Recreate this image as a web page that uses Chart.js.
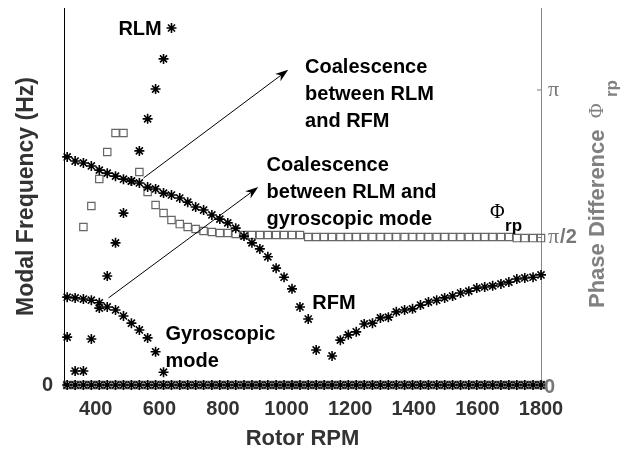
<!DOCTYPE html>
<html>
<head>
<meta charset="utf-8">
<script src="https://cdn.jsdelivr.net/npm/chart.js@4.4.1/dist/chart.umd.min.js"></script>
<style>
  html, body { margin: 0; padding: 0; background: #fff; }
</style>
</head>
<body>
<canvas id="modalChart" width="633" height="450"></canvas>
<script>
// rotor speed of every sample (rpm)
const rpm = [
    310, 335, 361, 386, 411, 436, 462, 487, 512, 537,
    563, 588, 613, 638, 664, 689, 714, 739, 765, 790,
    815, 840, 866, 891, 916, 941, 967, 992, 1017, 1042,
    1068, 1093, 1118, 1143, 1169, 1194, 1219, 1244, 1270, 1295,
    1320, 1345, 1371, 1396, 1421, 1446, 1472, 1497, 1522, 1547,
    1573, 1598, 1623, 1648, 1674, 1699, 1724, 1749, 1775, 1800
];
// rotor flexible mode (Hz), null where the point is missing
const rfmFreq = [
    60.5, 59.4, 58.9, 58.1, 57.0, 56.2, 55.4, 54.6, 54.1, 53.6,
    52.5, 52.0, 50.9, 50.4, 49.6, 48.5, 47.2, 46.4, 45.1, 44.0,
    43.0, 41.6, 39.5, 37.7, 36.1, 34.0, 31.0, 28.6, 25.5, 20.7,
    17.5, 9.3, null, 7.7, 11.9, 13.3, 14.1, 16.2, 16.4, 17.8,
    18.0, 19.4, 19.9, 20.2, 21.2, 22.0, 22.5, 23.1, 23.6, 24.4,
    24.9, 25.7, 26.0, 26.3, 26.8, 27.3, 28.1, 28.4, 28.6, 29.2
];
// rotor lateral mode (Hz), first samples only
const rlmFreq = [12.7, 3.7, 3.7, 12.2, 20.4, 28.9, 37.7, 45.6, 54.1, 62.1, 70.6, 78.5, 86.5, 94.7];
// gyroscopic mode (Hz), first samples only
const gyroFreq = [23.3, 23.1, 22.8, 22.5, 21.8, 20.7, 19.9, 18.3, 16.4, 14.6, 12.5, 8.8, 3.4];
// phase difference Phi_rp (rad)
const phaseRp = [
    null, null, 1.683, 1.906, 2.194, 2.481, 2.684, 2.684, null, 2.268,
    2.055, 1.917, 1.832, 1.757, 1.714, 1.683, 1.661, 1.640, 1.629, 1.619,
    1.619, 1.608, 1.597, 1.597, 1.597, 1.597, 1.597, 1.597, 1.597, 1.597,
    1.576, 1.576, 1.576, 1.576, 1.576, 1.576, 1.576, 1.576, 1.576, 1.576,
    1.576, 1.576, 1.576, 1.576, 1.576, 1.576, 1.576, 1.576, 1.576, 1.576,
    1.576, 1.576, 1.576, 1.576, 1.576, 1.576, 1.565, 1.565, 1.565, 1.565
];
const xTicks = [400, 600, 800, 1000, 1200, 1400, 1600, 1800];

const FONT = "'Liberation Sans', Arial, sans-serif";
const SERIF = "'Liberation Serif', 'Times New Roman', serif";

function toPoints(values) {
    return values
        .map((v, i) => ({ x: rpm[i], y: v }))
        .filter(p => p.y !== null);
}

const zeroLine = rpm.map(() => 0);

const starStyle = {
    pointStyle: "star",
    pointRadius: 5,
    pointBorderWidth: 1.6,
    borderColor: "#000",
    backgroundColor: "#000",
    showLine: false,
    clip: false
};
const boxStyle = {
    pointStyle: "rect",
    pointRadius: 5.2,
    pointBorderWidth: 1.2,
    borderColor: "#666",
    backgroundColor: "rgba(0,0,0,0)",
    showLine: false,
    clip: false
};

// text and arrows placed in data units (rpm, Hz)
const arrows = [
    { from: [550, 54.9], to: [1005, 83.6] },
    { from: [440, 23.1], to: [911, 52.5] }
];
const notes = [
    { at: [471, 94.2], lines: ["RLM"] },
    { at: [1058, 84.1], lines: ["Coalescence", "between RLM", "and RFM"] },
    { at: [937, 58.1], lines: ["Coalescence", "between RLM and", "gyroscopic mode"] },
    { at: [619, 13.5], lines: ["Gyroscopic", "mode"] },
    { at: [1081, 21.5], lines: ["RFM"] }
];

function drawArrow(ctx, x1, y1, x2, y2) {
    const ang = Math.atan2(y2 - y1, x2 - x1);
    const len = 13, half = 4.5;
    ctx.beginPath();
    ctx.moveTo(x1, y1);
    ctx.lineTo(x2 - Math.cos(ang) * len * 0.7, y2 - Math.sin(ang) * len * 0.7);
    ctx.stroke();
    ctx.save();
    ctx.translate(x2, y2);
    ctx.rotate(ang);
    ctx.beginPath();
    ctx.moveTo(0, 0);
    ctx.lineTo(-len, -half);
    ctx.lineTo(-len * 0.7, 0);
    ctx.lineTo(-len, half);
    ctx.closePath();
    ctx.fill();
    ctx.restore();
}

// no extra room above/below the axes for half tick labels
function noPadding(s) {
    s.paddingTop = 0;
    s.paddingBottom = 0;
    s.paddingLeft = 0;
    s.paddingRight = 0;
}

const notesPlugin = {
    id: "notes",
    afterDraw(chart) {
        const ctx = chart.ctx;
        const sx = chart.scales.x, sy = chart.scales.y, sy2 = chart.scales.y2;
        ctx.save();

        // arrows
        ctx.strokeStyle = "#000";
        ctx.fillStyle = "#000";
        ctx.lineWidth = 1;
        arrows.forEach(a => {
            drawArrow(ctx,
                sx.getPixelForValue(a.from[0]), sy.getPixelForValue(a.from[1]),
                sx.getPixelForValue(a.to[0]), sy.getPixelForValue(a.to[1]));
        });

        // labels
        ctx.font = "bold 20px " + FONT;
        ctx.textAlign = "left";
        ctx.textBaseline = "middle";
        notes.forEach(n => {
            const px = sx.getPixelForValue(n.at[0]);
            const py = sy.getPixelForValue(n.at[1]);
            n.lines.forEach((t, k) => ctx.fillText(t, px, py + k * 27));
        });

        // Phi_rp next to the phase curve
        const phx = sx.getPixelForValue(1640), phy = sy2.getPixelForValue(1.832);
        ctx.font = "20px " + SERIF;
        ctx.fillText("\u03A6", phx, phy);
        ctx.font = "bold 17px " + FONT;
        ctx.fillText("rp", phx + 15, phy + 13);

        // right axis ticks and labels
        const gray = "#777";
        ctx.strokeStyle = gray;
        ctx.fillStyle = gray;
        const ax = sy2.left;
        [Math.PI, Math.PI / 2].forEach(v => {
            const py = sy2.getPixelForValue(v);
            ctx.beginPath();
            ctx.moveTo(ax - 4, py);
            ctx.lineTo(ax, py);
            ctx.stroke();
        });
        const lx = ax + 7;
        ctx.font = "22px " + SERIF;
        ctx.fillText("\u03C0", lx, sy2.getPixelForValue(Math.PI));
        ctx.fillText("\u03C0", lx, sy2.getPixelForValue(Math.PI / 2));
        const piW = ctx.measureText("\u03C0").width;
        ctx.font = "bold 20px " + FONT;
        ctx.fillText("/2", lx + piW + 1, sy2.getPixelForValue(Math.PI / 2));
        ctx.fillText("0", ax + 3, sy2.getPixelForValue(0) + 2);

        // right axis title
        ctx.fillStyle = "#808080";
        ctx.translate(598, 308);
        ctx.rotate(-Math.PI / 2);
        ctx.font = "bold 22px " + FONT;
        ctx.fillText("Phase Difference", 0, 0);
        ctx.font = "20px " + SERIF;
        ctx.fillText("\u03A6", 190, 0);
        ctx.font = "bold 17px " + FONT;
        ctx.fillText("rp", 211, 14);
        ctx.restore();
    }
};

const ctx = document.getElementById("modalChart").getContext("2d");
const modalChart = new Chart(ctx, {
    type: "scatter",
    data: {
        datasets: [
            { label: "RFM", data: toPoints(rfmFreq), yAxisID: "y", ...starStyle },
            { label: "RLM", data: toPoints(rlmFreq), yAxisID: "y", ...starStyle },
            { label: "Gyroscopic", data: toPoints(gyroFreq), yAxisID: "y", ...starStyle },
            { label: "Zero", data: toPoints(zeroLine), yAxisID: "y", ...starStyle },
            { label: "Phi_rp", data: toPoints(phaseRp), yAxisID: "y2", ...boxStyle },
            { label: "Phi zero", data: toPoints(zeroLine), yAxisID: "y2", ...boxStyle }
        ]
    },
    options: {
        responsive: false,
        animation: false,
        layout: { padding: { top: 8, left: 0, right: 0, bottom: 0 } },
        plugins: {
            legend: { display: false },
            tooltip: { enabled: false }
        },
        scales: {
            x: {
                type: "linear",
                min: 300,
                max: 1800,
                afterBuildTicks: s => { s.ticks = xTicks.map(v => ({ value: v })); },
                afterFit: s => { s.height = 65; noPadding(s); },
                grid: { drawOnChartArea: false, drawTicks: false },
                border: { display: false },
                ticks: {
                    font: { family: FONT, size: 20, weight: "bold" },
                    color: "#333",
                    padding: 12,
                    maxRotation: 0,
                    autoSkip: false,
                    callback: v => String(v)
                },
                title: {
                    display: true,
                    text: "Rotor RPM",
                    font: { family: FONT, size: 22, weight: "bold", lineHeight: 1 },
                    color: "#333",
                    padding: { top: 0, bottom: 0 }
                }
            },
            y: {
                position: "left",
                min: 0,
                max: 100,
                afterBuildTicks: s => { s.ticks = [{ value: 0 }]; },
                afterFit: s => { s.width = 64; noPadding(s); },
                grid: { drawOnChartArea: false, drawTicks: false },
                border: { color: "#000", width: 1 },
                ticks: {
                    font: { family: FONT, size: 20, weight: "bold" },
                    color: "#333",
                    padding: 11,
                    callback: v => String(v)
                },
                title: {
                    display: true,
                    text: "Modal Frequency (Hz)",
                    font: { family: FONT, size: 23, weight: "bold", lineHeight: 1 },
                    color: "#333",
                    padding: { top: 15, bottom: 0 }
                }
            },
            y2: {
                position: "right",
                min: 0,
                max: 4.015,
                afterFit: s => { s.width = 92; noPadding(s); },
                grid: { drawOnChartArea: false, drawTicks: false },
                border: { color: "#888", width: 1 },
                ticks: { display: false }
            }
        }
    },
    plugins: [notesPlugin]
});
</script>
</body>
</html>
